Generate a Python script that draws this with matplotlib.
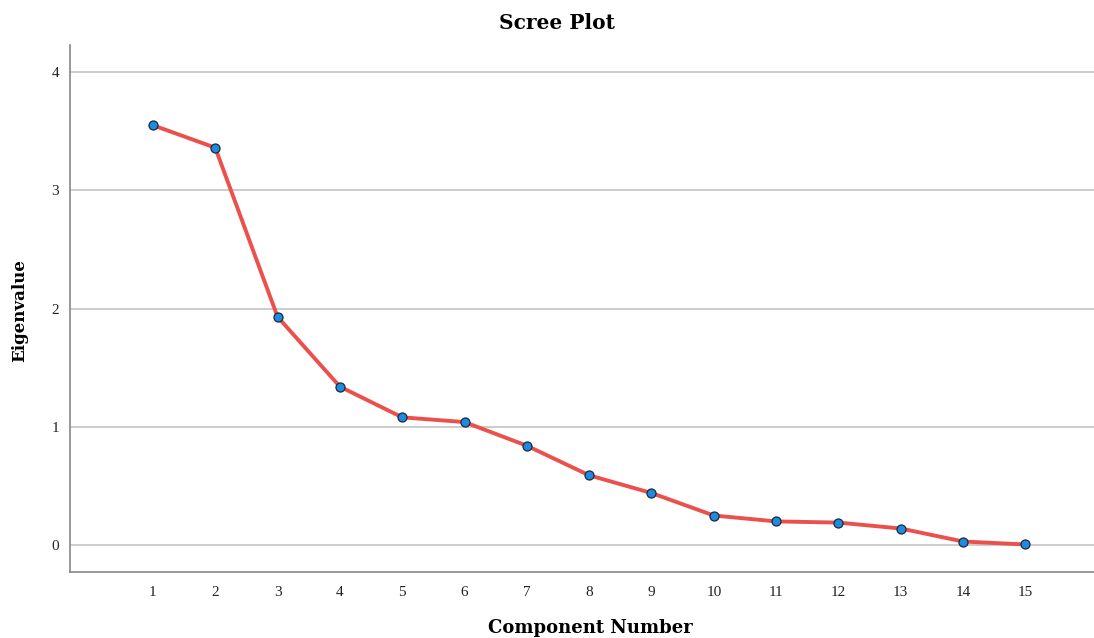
import matplotlib
matplotlib.use("Agg")
import matplotlib.pyplot as plt

components = list(range(1, 16))
eigenvalues = [3.55, 3.36, 1.93, 1.34, 1.08, 1.04, 0.84, 0.59, 0.44, 0.25, 0.20, 0.19, 0.14, 0.03, 0.005]
x_tick_labels = [str(c) for c in components]
y_ticks = [0, 1, 2, 3, 4]

plt.rcParams['font.family'] = ['Liberation Serif', 'DejaVu Serif']
label_font = ['DejaVu Serif', 'Liberation Serif']

fig = plt.figure(figsize=(10.94, 6.38), dpi=100)
ax = fig.add_axes([0.064, 0.1034, 0.936, 0.826])

ax.plot(components, eigenvalues, color='#ec504c', lw=2.8, zorder=3,
        marker='o', markersize=6.5, markerfacecolor='#1f8be0',
        markeredgecolor='#1a2a3a', markeredgewidth=0.9)

ax.set_xlim(-0.33, 16.1)
ax.set_ylim(-0.228, 4.228)
ax.set_xticks(components)
ax.set_xticklabels(x_tick_labels)
ax.set_yticks(y_ticks)
ax.tick_params(axis='both', length=0, labelsize=11, colors='#222222')
ax.tick_params(axis='x', pad=10)
ax.tick_params(axis='y', pad=8)
ax.grid(axis='y', color='#c8c8c8', lw=1.3)
ax.set_axisbelow(True)
for s in ['top', 'right']:
    ax.spines[s].set_visible(False)
for s in ['left', 'bottom']:
    ax.spines[s].set_color('#888888')
    ax.spines[s].set_linewidth(1.2)

fig.text(557 / 1094, 1 - 23 / 638, 'Scree Plot', fontsize=14.5, fontweight='bold',
         family=label_font, ha='center', va='center')
fig.text(590 / 1094, 1 - 628 / 638, 'Component Number', fontsize=13, fontweight='bold',
         family=label_font, ha='center', va='center')
fig.text(20 / 1094, 1 - 311 / 638, 'Eigenvalue', fontsize=12, fontweight='bold',
         family=label_font, ha='center', va='center', rotation=90)

fig.savefig('out.png', dpi=100)
